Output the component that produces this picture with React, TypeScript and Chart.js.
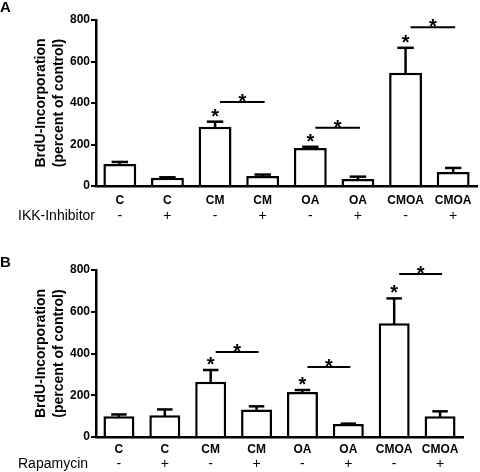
import React, { useEffect, useRef } from "react";
import { Chart, registerables } from "chart.js";

Chart.register(...registerables);

// ---- data ----
const categories = ["C", "C", "CM", "CM", "OA", "OA", "CMOA", "CMOA"];
const signs = ["-", "+", "-", "+", "-", "+", "-", "+"];
const yTicks = [0, 200, 400, 600, 800];

const ikkMeans = [106, 40, 285, 48, 183, 34, 546, 67];
const ikkErrTops = [116, 42, 310, 55, 189, 45, 666, 87];
const ikkSigLines = [405, 281, 765];

const rapaMeans = [100, 104, 265, 132, 215, 62, 545, 100];
const rapaErrTops = [108, 132, 321, 147, 225, 64, 664, 123];
const rapaSigLines = [407, 335, 781];

// index of the "-" bar of each significant pair
const sigIndices = [2, 4, 6];

const FONT = "'Liberation Sans', Arial, Helvetica, sans-serif";

type PanelProps = {
  letter: string;
  letterBaseline: number;
  rowLabel: string;
  means: number[];
  errTops: number[];
  sigLines: number[];
  padTop: number;
  padRight: number;
  padBottom: number;
  barPct: number;
  signOffset: number;
  tickPad: number;
};

function Panel(p: PanelProps) {
  const ref = useRef<HTMLCanvasElement | null>(null);
  useEffect(() => {
    if (!ref.current) return;
    const annot = {
      id: "annot",
      afterDatasetsDraw(chart: any) {
        const ctx = chart.ctx;
        const xs = chart.scales.x;
        const ys = chart.scales.y;
        const meta = chart.getDatasetMeta(0);
        ctx.save();
        ctx.strokeStyle = "#000";
        ctx.fillStyle = "#000";
        ctx.lineWidth = 2.5;
        ctx.lineCap = "butt";
        // error bars (upper whisker only)
        meta.data.forEach((bar: any, i: number) => {
          const cx = bar.x;
          const w = bar.width;
          const yTop = ys.getPixelForValue(p.means[i]);
          const yErr = ys.getPixelForValue(p.errTops[i]);
          ctx.beginPath();
          ctx.moveTo(cx, yTop + 1);
          ctx.lineTo(cx, yErr);
          ctx.stroke();
          ctx.beginPath();
          ctx.moveTo(cx - w / 4, yErr);
          ctx.lineTo(cx + w / 4, yErr);
          ctx.stroke();
        });
        // significance marks
        ctx.font = `bold 20px ${FONT}`;
        ctx.textAlign = "center";
        ctx.textBaseline = "alphabetic";
        const star = (x: number, cy: number) => ctx.fillText("*", x, cy + 11);
        sigIndices.forEach((idx, k) => {
          const cx = xs.getPixelForValue(idx);
          const yErr = ys.getPixelForValue(p.errTops[idx]);
          star(cx, yErr - 10);
          const x1 = cx + 5;
          const x2 = xs.getPixelForValue(idx + 1) + 2;
          const ly = ys.getPixelForValue(p.sigLines[k]);
          ctx.lineWidth = 2;
          ctx.beginPath();
          ctx.moveTo(x1, ly);
          ctx.lineTo(x2, ly);
          ctx.stroke();
          star((x1 + x2) / 2, ly - 5);
        });
        // treatment row
        const area = chart.chartArea;
        const rowY = area.bottom + p.signOffset;
        ctx.font = `14px ${FONT}`;
        ctx.textBaseline = "middle";
        signs.forEach((s, i) => {
          ctx.textAlign = "center";
          ctx.fillText(s, xs.getPixelForValue(i), rowY);
        });
        ctx.textAlign = "left";
        ctx.fillText(p.rowLabel, 18, rowY);
        // panel letter
        ctx.font = `bold 15px ${FONT}`;
        ctx.textBaseline = "alphabetic";
        ctx.fillText(p.letter, 0, p.letterBaseline);
        ctx.restore();
      },
    };

    const chart = new Chart(ref.current, {
      type: "bar",
      data: {
        labels: categories,
        datasets: [
          {
            data: p.means,
            backgroundColor: "#ffffff",
            borderColor: "#000000",
            borderWidth: 2.5,
            barPercentage: p.barPct,
            categoryPercentage: 1,
          },
        ],
      },
      options: {
        responsive: false,
        animation: false,
        devicePixelRatio: 1,
        layout: { padding: { top: p.padTop, right: p.padRight, bottom: p.padBottom, left: 0 } },
        plugins: { legend: { display: false }, tooltip: { enabled: false } },
        scales: {
          x: {
            type: "category",
            grid: { display: false },
            border: { display: true, color: "#000", width: 2.5 },
            ticks: {
              color: "#000",
              font: { family: FONT, size: 12, weight: "bold" },
              padding: p.tickPad,
              maxRotation: 0,
              autoSkip: false,
            },
            afterFit: (s: any) => {
              s.height = 32;
            },
          },
          y: {
            min: 0,
            max: 800,
            afterBuildTicks: (s: any) => {
              s.ticks = yTicks.map((v) => ({ value: v }));
            },
            grid: {
              display: true,
              drawOnChartArea: false,
              drawTicks: true,
              tickLength: 5,
              color: "#000",
              lineWidth: 2,
            },
            border: { display: true, color: "#000", width: 2.5 },
            ticks: {
              color: "#000",
              font: { family: FONT, size: 12, weight: "bold" },
              padding: 1,
            },
            title: {
              display: true,
              text: ["BrdU-Incorporation", "(percent of control)"],
              color: "#000",
              font: { family: FONT, size: 14, weight: "bold", lineHeight: 18 / 14 },
              padding: { top: 32, bottom: 0 },
            },
            afterFit: (s: any) => {
              s.width = 96;
            },
          },
        },
      },
      plugins: [annot],
    } as any);
    return () => chart.destroy();
  }, []);
  return <canvas ref={ref} width={480} height={236} style={{ display: "block", width: 480, height: 236 }} />;
}

export default function App() {
  return (
    <div style={{ position: "absolute", left: 0, top: 0, width: 480, height: 472, background: "#fff" }}>
      <Panel
        letter="A"
        letterBaseline={12}
        rowLabel="IKK-Inhibitor"
        means={ikkMeans}
        errTops={ikkErrTops}
        sigLines={ikkSigLines}
        padTop={20}
        padRight={3}
        padBottom={18}
        barPct={0.69}
        signOffset={30}
        tickPad={-1}
      />
      <Panel
        letter="B"
        letterBaseline={31}
        rowLabel="Rapamycin"
        means={rapaMeans}
        errTops={rapaErrTops}
        sigLines={rapaSigLines}
        padTop={34}
        padRight={17}
        padBottom={3}
        barPct={0.675}
        signOffset={27}
        tickPad={-3}
      />
    </div>
  );
}
